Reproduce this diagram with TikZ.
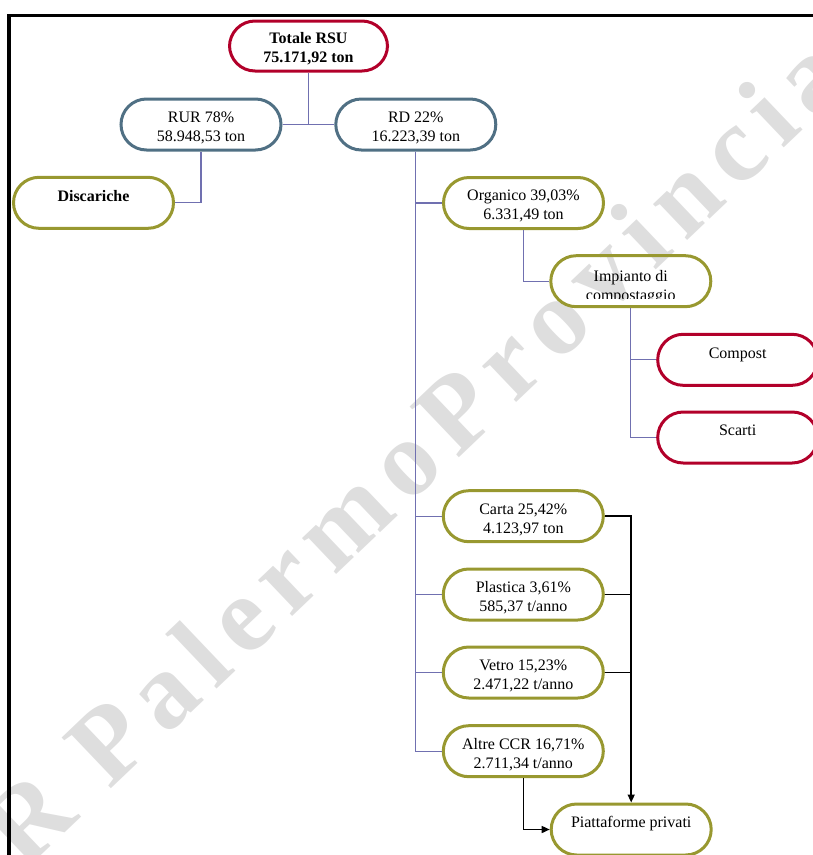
\documentclass[tikz,border=0pt]{standalone}
\usepackage{fontspec}
\setmainfont{Liberation Serif}
\newfontfamily\wmfont[LetterSpace=12]{Liberation Serif}
\usetikzlibrary{arrows.meta}
\definecolor{cred}{RGB}{178,0,42}
\definecolor{cslate}{RGB}{80,112,132}
\definecolor{colive}{RGB}{152,152,48}
\definecolor{cconn}{RGB}{112,112,176}
\definecolor{cwm}{RGB}{222,222,222}
\begin{document}
\begin{tikzpicture}[x=1pt,y=-1pt,
  box/.style={draw, line width=3pt, rounded corners=25.5pt, minimum width=160pt,
    minimum height=51pt, inner sep=0pt, align=center,
    font=\fontsize{16}{19}\selectfont, text height=11pt, text depth=14.5pt},
  twoline/.style={text height=34pt, text depth=0.4pt},
  redbox/.style={box, draw=cred},
  slatebox/.style={box, draw=cslate},
  olivebox/.style={box, draw=colive},
  conn/.style={draw=cconn, line width=1.3pt},
  flow/.style={draw=black, line width=1.5pt},
  tip/.style={-{Triangle[length=8pt,width=7pt]}},
  plain/.style={inner sep=0pt, font=\fontsize{16}{19}\selectfont}
]
\useasboundingbox (0,0) rectangle (813,855);
% watermark
\node[rotate=43.6, anchor=base west, text=cwm, inner sep=0pt,
  font=\wmfont\bfseries\fontsize{108}{108}\selectfont] (wm) at (24,872) {R PalermoProvincia};
% frame
\draw[line width=3.2pt] (9,860) -- (9,15.7) -- (815,15.7);

% nodes
\node[redbox, twoline, minimum width=158pt, minimum height=50pt,
  font=\fontsize{16}{19}\selectfont\bfseries] (tot) at (308.5,46) {Totale RSU\\75.171,92 ton};
\node[slatebox, twoline] (rur) at (201,124.5) {RUR 78\%\\58.948,53 ton};
\node[slatebox, twoline] (rd) at (415.8,124.5) {RD 22\%\\16.223,39 ton};
\node[olivebox, font=\fontsize{16}{19}\selectfont\bfseries] (disc) at (93.5,202.8) {Discariche};
\node[olivebox, twoline] (org) at (523.5,203) {Organico 39,03\%\\6.331,49 ton};
\node[olivebox] (imp) at (630.8,281.2) {};
\begin{scope}
  \clip (540,250) rectangle (720,298);
  \node[plain, anchor=base] (impa) at (630.8,281.5) {Impianto di};
  \node[plain, anchor=base] (impb) at (630.8,300.5) {compostaggio};
\end{scope}
\node[redbox] (comp) at (737.7,359.8) {Compost};
\node[redbox] (scar) at (737.7,437.5) {Scarti};
\node[olivebox, twoline] (carta) at (523.3,516.2) {Carta 25,42\%\\4.123,97 ton};
\node[olivebox, twoline] (plast) at (523.3,594.5) {Plastica 3,61\%\\585,37 t/anno};
\node[olivebox, twoline] (vetro) at (523.3,672.5) {Vetro 15,23\%\\2.471,22 t/anno};
\node[olivebox, twoline] (altre) at (523.3,751.2) {Altre CCR 16,71\%\\2.711,34 t/anno};
\node[olivebox] (piatt) at (631.2,829.5) {Piattaforme privati};

% tree connectors
\draw[conn] (tot.south) -- (tot.south |- rur.east);
\draw[conn] (rur.east) -- (rd.west);
\draw[conn] (rur.south) |- (disc.east);
\draw[conn] (rd.south) |- (altre.west);
\draw[conn] (rd.south) |- (org.west);
\draw[conn] (rd.south) |- (carta.west);
\draw[conn] (rd.south) |- (plast.west);
\draw[conn] (rd.south) |- (vetro.west);
\draw[conn] (org.south) |- (imp.west);
\draw[conn] (imp.south) |- (scar.west);
\draw[conn] (imp.south) |- (comp.west);

% flow arrows
\draw[flow, tip] (carta.east) -| (piatt.north);
\draw[flow] (plast.east) -- (plast.east -| piatt.north);
\draw[flow] (vetro.east) -- (vetro.east -| piatt.north);
\draw[flow, tip] (altre.south) |- (piatt.west);
\end{tikzpicture}
\end{document}
